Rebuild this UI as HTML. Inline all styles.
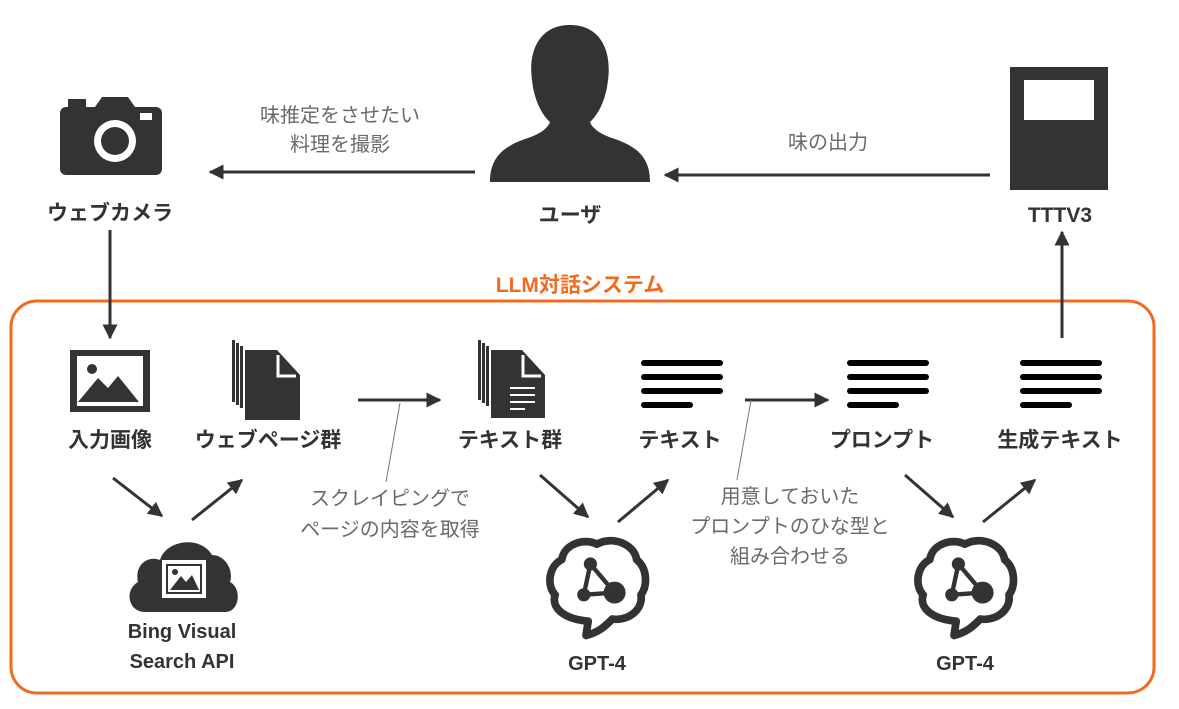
<!DOCTYPE html>
<html><head><meta charset="utf-8"><style>
html,body{margin:0;padding:0;background:#fff;}
svg{display:block;}
text{font-family:"Liberation Sans","Noto Sans CJK JP",sans-serif;}
.l{font-size:21px;font-weight:bold;fill:#333;text-anchor:middle;}
.g{font-size:20px;fill:#6a6a6a;text-anchor:middle;}
</style></head><body>
<svg width="1179" height="709" viewBox="0 0 1179 709" xmlns="http://www.w3.org/2000/svg">
<defs>
<marker id="a" viewBox="0 0 10 10" refX="9" refY="5" markerWidth="5" markerHeight="5" orient="auto"><path d="M0,0 L10,5 L0,10z" fill="#333"/></marker>
<g id="lines"><rect x="0" y="0" width="82" height="6" rx="3"/><rect x="0" y="14" width="82" height="6" rx="3"/><rect x="0" y="28" width="82" height="6" rx="3"/><rect x="0" y="42" width="52" height="6" rx="3"/></g>
<g id="brain" fill="none" stroke="#333" stroke-width="7" stroke-linejoin="round">
<path d="M-10,45 L-8,32 C-30,30 -42,20 -38,8 C-46,0 -44,-18 -32,-24 C-30,-38 -12,-44 0,-38 C14,-46 34,-38 36,-24 C46,-16 46,0 40,8 C42,22 28,32 14,30 C8,36 2,42 -10,45 Z"/>
<g fill="#333" stroke="none"><circle cx="-6" cy="-20" r="6"/><circle cx="-12" cy="8" r="6"/><circle cx="16" cy="6" r="10"/></g>
<path d="M-6,-20 L-12,8 L16,6 Z" stroke-width="4"/>
</g>
</defs>
<rect x="11" y="301" width="1143" height="392" rx="26" fill="none" stroke="#f26b1d" stroke-width="3"/>
<text x="580" y="292" style="font-size:21px;font-weight:bold;fill:#f26b1d;text-anchor:middle">LLM対話システム</text>
<g fill="#333"><rect x="60" y="107" width="102" height="68" rx="6"/><rect x="68" y="99" width="18" height="10"/><path d="M95,107 L102,97 L128,97 L135,107Z"/></g>
<circle cx="115" cy="141" r="21" fill="#fff"/><circle cx="115" cy="141" r="14" fill="#333"/><rect x="140" y="113" width="12" height="7" fill="#fff"/>
<text class="l" x="110" y="220">ウェブカメラ</text>
<path fill="#333" d="M570,25 C600,25 612,50 608,80 C606,100 598,115 590,122 C592,128 600,134 612,138 C640,147 650,160 650,182 L490,182 C490,160 500,147 528,138 C540,134 548,128 550,122 C542,115 534,100 532,80 C528,50 540,25 570,25Z"/>
<text class="l" x="570" y="222">ユーザ</text>
<rect x="1010" y="67" width="98" height="123" fill="#333"/><rect x="1024" y="80" width="70" height="40" fill="#fff"/>
<text class="l" x="1060" y="222">TTTV3</text>
<g stroke="#333" stroke-width="3" fill="none" marker-end="url(#a)">
<line x1="990" y1="175" x2="665" y2="175"/>
<line x1="475" y1="172" x2="210" y2="172"/>
<line x1="1062" y1="338" x2="1062" y2="232"/>
<line x1="110" y1="230" x2="110" y2="338"/>
<line x1="358" y1="400" x2="440" y2="400"/>
<line x1="745" y1="400" x2="828" y2="400"/>
<line x1="113" y1="478" x2="162" y2="516"/>
<line x1="192" y1="520" x2="242" y2="480"/>
<line x1="540" y1="475" x2="588" y2="517"/>
<line x1="618" y1="522" x2="668" y2="480"/>
<line x1="905" y1="475" x2="953" y2="517"/>
<line x1="983" y1="522" x2="1035" y2="480"/>
</g>
<text class="g" x="340" y="122">味推定をさせたい</text>
<text class="g" x="340" y="151">料理を撮影</text>
<text class="g" x="828" y="149">味の出力</text>
<rect x="70" y="350" width="80" height="62" fill="#333"/><rect x="77" y="356" width="66" height="50" fill="#fff"/>
<circle cx="92" cy="369" r="5" fill="#333"/><path d="M78,402 L98,378 L108,388 L118,376 L139,402Z" fill="#333"/>
<text class="l" x="110" y="447">入力画像</text>
<g fill="#333">
<rect x="232" y="340" width="3" height="62"/><rect x="236" y="343" width="3" height="62"/><rect x="240" y="346" width="3" height="62"/>
<path d="M245,350 L277,350 L300,375 L300,420 L245,420Z"/>
</g>
<path d="M278,355 L278,376 L296,376" fill="none" stroke="#fff" stroke-width="3"/>
<text class="l" x="268" y="447">ウェブページ群</text>
<g fill="#333">
<rect x="478" y="340" width="3" height="60"/><rect x="482" y="343" width="3" height="60"/><rect x="486" y="346" width="3" height="60"/>
<path d="M491,350 L522,350 L545,375 L545,418 L491,418Z"/>
</g>
<path d="M523,355 L523,376 L541,376" fill="none" stroke="#fff" stroke-width="3"/>
<g stroke="#fff" stroke-width="2"><line x1="510" y1="388" x2="535" y2="388"/><line x1="510" y1="395" x2="535" y2="395"/><line x1="510" y1="402" x2="535" y2="402"/><line x1="510" y1="409" x2="525" y2="409"/></g>
<text class="l" x="510" y="447">テキスト群</text>
<use href="#lines" x="641" y="360" fill="#000"/>
<text class="l" x="680" y="447">テキスト</text>
<use href="#lines" x="847" y="360" fill="#000"/>
<text class="l" x="882" y="447">プロンプト</text>
<use href="#lines" x="1020" y="360" fill="#000"/>
<text class="l" x="1060" y="447">生成テキスト</text>
<line x1="400" y1="403" x2="386" y2="482" stroke="#777" stroke-width="1"/>
<line x1="751" y1="400" x2="737" y2="480" stroke="#777" stroke-width="1"/>
<text class="g" x="390" y="505">スクレイピングで</text>
<text class="g" x="390" y="536">ページの内容を取得</text>
<text class="g" x="790" y="503">用意しておいた</text>
<text class="g" x="790" y="533">プロンプトのひな型と</text>
<text class="g" x="790" y="563">組み合わせる</text>
<path fill="#333" d="M145,612 C128,612 124,590 138,582 C134,565 148,555 160,560 C166,540 200,535 212,555 C225,555 234,570 230,582 C242,588 240,612 225,612Z"/>
<rect x="162" y="560" width="44" height="38" fill="#fff"/><rect x="166" y="564" width="36" height="30" fill="#333"/><rect x="168" y="566" width="32" height="26" fill="#fff"/>
<circle cx="175" cy="572" r="3" fill="#333"/><path d="M170,590 L181,576 L186,582 L192,575 L199,590Z" fill="#333"/>
<text class="l" x="182" y="638" style="font-size:20px">Bing Visual</text>
<text class="l" x="182" y="668" style="font-size:20px">Search API</text>
<use href="#brain" transform="translate(597,586) scale(1.1)"/>
<text class="l" x="597" y="670" style="font-size:20px">GPT-4</text>
<use href="#brain" transform="translate(965,586) scale(1.1)"/>
<text class="l" x="965" y="670" style="font-size:20px">GPT-4</text>
</svg>
</body></html>
